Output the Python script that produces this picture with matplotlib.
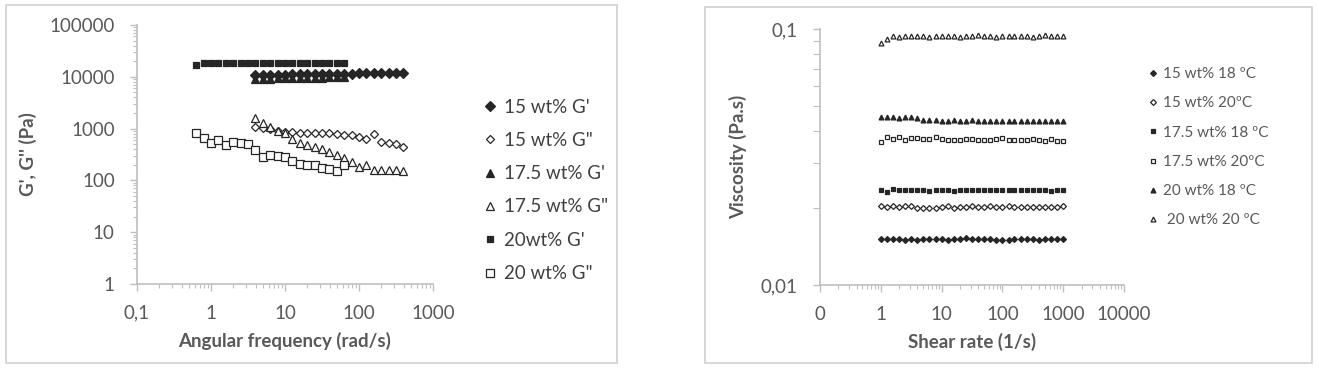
import numpy as np
import matplotlib.pyplot as plt
from matplotlib.patches import Rectangle
from matplotlib.ticker import LogLocator, NullFormatter

plt.rcParams['font.family'] = ['Lato', 'DejaVu Sans']

# ---- left chart: frequency sweep ----
freq_20 = [0.631, 0.794, 1.0, 1.26, 1.58, 2.0, 2.51, 3.16, 3.98, 5.01, 6.31,
           7.94, 10.0, 12.6, 15.8, 20.0, 25.1, 31.6, 39.8, 50.1, 63.1]
freq_15 = [3.98, 5.01, 6.31, 7.94, 10.0, 12.6, 15.8, 20.0, 25.1, 31.6, 39.8,
           50.1, 63.1, 79.4, 100, 126, 158, 200, 251, 316, 398]
freq_175_g1 = [3.98, 5.01, 6.31, 7.94, 10.0, 12.6, 15.8, 20.0, 25.1, 31.6,
               39.8, 50.1, 63.1]

g1_15 = [10700, 10800, 10900, 11000, 11000, 11100, 11200, 11200, 11300, 11300,
         11400, 11400, 11500, 11500, 11600, 11600, 11700, 11700, 11800, 11900, 12000]
g2_15 = [1090, 1010, 980, 910, 870, 865, 835, 835, 835, 811, 811, 787, 751,
         751, 698, 621, 776, 558, 520, 505, 448]
g1_175 = [9000, 9100, 9200, 9300, 9300, 9400, 9500, 9500, 9600, 9600, 9700,
          9800, 9900]
g2_175 = [1580, 1265, 1090, 910, 835, 620, 535, 482, 448, 398, 358, 309, 267,
          230, 184, 198, 158, 158, 158, 158, 154]
g1_20 = [16900, 18500, 18700, 18600, 18700, 18700, 18600, 18700, 18700, 18700,
         18600, 18700, 18700, 18700, 18600, 18700, 18700, 18600, 18700, 18700, 18700]
g2_20 = [811, 650, 535, 603, 482, 558, 520, 505, 386, 279, 309, 296, 287, 237,
         208, 198, 195, 171, 166, 154, 198]

# ---- right chart: viscosity ----
shear = [1.0, 1.26, 1.58, 2.0, 2.51, 3.16, 3.98, 5.01, 6.31, 7.94, 10.0, 12.6,
         15.8, 20.0, 25.1, 31.6, 39.8, 50.1, 63.1, 79.4, 100, 126, 158, 200,
         251, 316, 398, 501, 631, 794, 1000]
v_15_18 = [0.0151, 0.0151, 0.0151, 0.0151, 0.0150, 0.0151, 0.0150, 0.0151,
           0.0151, 0.0151, 0.0151, 0.0150, 0.0151, 0.0151, 0.0152, 0.0151,
           0.0151, 0.0151, 0.0151, 0.0150, 0.0150, 0.0150, 0.0151, 0.0151,
           0.0151, 0.0151, 0.0150, 0.0151, 0.0151, 0.0151, 0.0151]
v_15_20 = [0.0203, 0.0201, 0.0203, 0.0202, 0.0203, 0.0203, 0.0200, 0.0200,
           0.0200, 0.0200, 0.0202, 0.0203, 0.0200, 0.0201, 0.0202, 0.0203,
           0.0202, 0.0201, 0.0203, 0.0201, 0.0202, 0.0204, 0.0202, 0.0202,
           0.0202, 0.0202, 0.0202, 0.0202, 0.0202, 0.0201, 0.0204]
v_175_18 = [0.0236, 0.0230, 0.0238, 0.0236, 0.0236, 0.0236, 0.0236, 0.0236,
            0.0233, 0.0236, 0.0234, 0.0236, 0.0233, 0.0235, 0.0235, 0.0235,
            0.0235, 0.0236, 0.0234, 0.0234, 0.0234, 0.0234, 0.0234, 0.0234,
            0.0234, 0.0236, 0.0234, 0.0235, 0.0233, 0.0235, 0.0236]
v_175_20 = [0.0362, 0.0378, 0.0372, 0.0380, 0.0368, 0.0374, 0.0376, 0.0372,
            0.0373, 0.0378, 0.0372, 0.0370, 0.0370, 0.0368, 0.0372, 0.0372,
            0.0370, 0.0370, 0.0370, 0.0372, 0.0374, 0.0368, 0.0370, 0.0368,
            0.0369, 0.0372, 0.0370, 0.0366, 0.0373, 0.0366, 0.0366]
v_20_18 = [0.0455, 0.0452, 0.0454, 0.0450, 0.0455, 0.0453, 0.0450, 0.0440,
           0.0440, 0.0440, 0.0438, 0.0439, 0.0440, 0.0439, 0.0438, 0.0440,
           0.0438, 0.0438, 0.0437, 0.0438, 0.0438, 0.0437, 0.0437, 0.0438,
           0.0436, 0.0437, 0.0438, 0.0437, 0.0437, 0.0437, 0.0437]
v_20_20 = [0.088, 0.091, 0.094, 0.093, 0.094, 0.094, 0.094, 0.094, 0.093,
           0.094, 0.094, 0.094, 0.094, 0.093, 0.094, 0.094, 0.095, 0.094,
           0.094, 0.093, 0.094, 0.094, 0.094, 0.094, 0.094, 0.093, 0.094,
           0.095, 0.094, 0.094, 0.094]

dark = '#262626'
grey_txt = '#595959'
axis_col = '#bfbfbf'

fig = plt.figure(figsize=(13.19, 3.8), dpi=100)

# panel frames
fig.patches.append(Rectangle((6 / 1319, 1 - 363 / 380), 611 / 1319, 358 / 380,
                             transform=fig.transFigure, fill=False,
                             edgecolor='#d0d0d0', lw=1.2))
fig.patches.append(Rectangle((705 / 1319, 1 - 363 / 380), 607 / 1319, 356 / 380,
                             transform=fig.transFigure, fill=False,
                             edgecolor='#d0d0d0', lw=1.2))

ax1 = fig.add_axes([137 / 1319, 1 - 284 / 380, 296 / 1319, 259 / 380])
ax2 = fig.add_axes([820 / 1319, 1 - 285 / 380, 304 / 1319, 256 / 380])


def style_axis(ax):
    for s in ['top', 'right']:
        ax.spines[s].set_visible(False)
    for s in ['left', 'bottom']:
        ax.spines[s].set_color(axis_col)
        ax.spines[s].set_linewidth(1.2)
    ax.tick_params(which='major', length=5, width=1, color=axis_col,
                   labelcolor=grey_txt, labelsize=13.5)
    ax.tick_params(which='minor', length=3, width=0.8, color=axis_col)
    ax.tick_params(axis='y', pad=11)
    ax.tick_params(axis='x', pad=10)
    ax.set_facecolor('none')


def mk(ax, x, y, marker, filled, size, label):
    ax.plot(x, y, linestyle='none', marker=marker, markersize=size,
            markerfacecolor=dark if filled else 'white', markeredgecolor=dark,
            markeredgewidth=0.9, label=label)


# left chart
mk(ax1, freq_15, g1_15, 'D', True, 5, "15 wt% G'")
mk(ax1, freq_15, g2_15, 'D', False, 4.5, '15 wt% G"')
mk(ax1, freq_175_g1, g1_175, '^', True, 5.5, "17.5 wt% G'")
mk(ax1, freq_15, g2_175, '^', False, 5.5, '17.5 wt% G"')
mk(ax1, freq_20, g1_20, 's', True, 5, "20wt% G'")
mk(ax1, freq_20, g2_20, 's', False, 5.5, '20 wt% G"')

ax1.set_xscale('log')
ax1.set_yscale('log')
ax1.set_xlim(0.1, 1000)
ax1.set_ylim(1, 100000)
ax1.set_xticks([0.1, 1, 10, 100, 1000], ['0,1', '1', '10', '100', '1000'])
ax1.set_yticks([1, 10, 100, 1000, 10000, 100000],
               ['1', '10', '100', '1000', '10000', '100000'])
for a in (ax1.xaxis, ax1.yaxis):
    a.set_minor_locator(LogLocator(base=10, subs=np.arange(2, 10), numticks=20))
    a.set_minor_formatter(NullFormatter())
style_axis(ax1)
ax1.set_xlabel('Angular frequency (rad/s)', fontsize=13.5, fontweight='bold',
               color=grey_txt, labelpad=7)
ax1.set_ylabel("G', G'' (Pa)", fontsize=13.5, fontweight='bold',
               color=grey_txt, labelpad=9)
leg1 = ax1.legend(loc='upper left', bbox_to_anchor=(1.149, 0.745), frameon=False,
                  fontsize=13.5, handlelength=0.6, handletextpad=0.45,
                  labelspacing=0.87, borderaxespad=0)
for t in leg1.get_texts():
    t.set_color('#404040')

# right chart
mk(ax2, shear, v_15_18, 'D', True, 3, '15 wt% 18 ºC')
mk(ax2, shear, v_15_20, 'D', False, 3, '15 wt% 20ºC')
mk(ax2, shear, v_175_18, 's', True, 3, '17.5 wt% 18 ºC')
mk(ax2, shear, v_175_20, 's', False, 3, '17.5 wt% 20ºC')
mk(ax2, shear, v_20_18, '^', True, 3.5, '20 wt% 18 ºC')
mk(ax2, shear, v_20_20, '^', False, 3.5, ' 20 wt% 20 ºC')

ax2.set_xscale('log')
ax2.set_yscale('log')
ax2.set_xlim(0.1, 10000)
ax2.set_ylim(0.01, 0.1)
ax2.set_xticks([0.1, 1, 10, 100, 1000, 10000],
               ['0', '1', '10', '100', '1000', '10000'])
ax2.set_yticks([0.01, 0.1], ['0,01', '0,1'])
for a in (ax2.xaxis, ax2.yaxis):
    a.set_minor_locator(LogLocator(base=10, subs=np.arange(2, 10), numticks=20))
    a.set_minor_formatter(NullFormatter())
style_axis(ax2)
ax2.tick_params(axis='y', which='minor', length=5)
ax2.set_xlabel('Shear rate (1/s)', fontsize=13.5, fontweight='bold',
               color=grey_txt, labelpad=7)
ax2.set_ylabel('Viscosity (Pa.s)', fontsize=13.5, fontweight='bold',
               color=grey_txt, labelpad=10)
leg2 = ax2.legend(loc='upper left', bbox_to_anchor=(1.0625, 0.875), frameon=False,
                  fontsize=11, handlelength=0.5, handletextpad=0.4,
                  labelspacing=1.0, borderaxespad=0)
for t in leg2.get_texts():
    t.set_color(grey_txt)

fig.savefig('out.png', dpi=100)
